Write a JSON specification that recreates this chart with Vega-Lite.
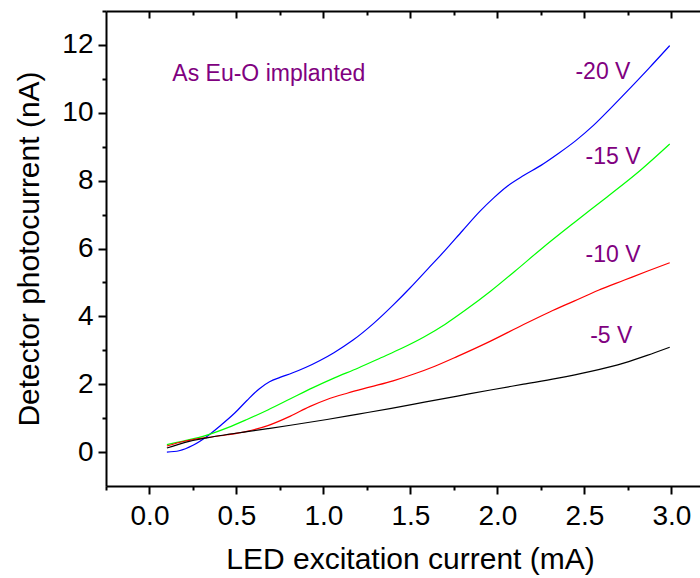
{
  "$schema": "https://vega.github.io/schema/vega-lite/v6.json",
  "width": 594,
  "height": 475,
  "autosize": {"type": "none"},
  "padding": {"left": 106, "top": 11, "right": 0, "bottom": 92},
  "background": "white",
  "config": {
    "view": {"stroke": null},
    "font": "Liberation Sans",
    "axis": {
      "domainColor": "black",
      "domainWidth": 2,
      "tickColor": "black",
      "tickWidth": 2,
      "grid": false,
      "labelFont": "Liberation Sans",
      "titleFont": "Liberation Sans",
      "labelColor": "black",
      "titleColor": "black",
      "titleFontWeight": "normal"
    }
  },
  "datasets": {
    "curves": [
      {"bias": "-20 V", "current": 0.10, "photo": 0.00},
      {"bias": "-20 V", "current": 0.17, "photo": 0.04},
      {"bias": "-20 V", "current": 0.25, "photo": 0.20},
      {"bias": "-20 V", "current": 0.33, "photo": 0.46},
      {"bias": "-20 V", "current": 0.41, "photo": 0.79},
      {"bias": "-20 V", "current": 0.49, "photo": 1.15},
      {"bias": "-20 V", "current": 0.56, "photo": 1.52},
      {"bias": "-20 V", "current": 0.63, "photo": 1.86},
      {"bias": "-20 V", "current": 0.69, "photo": 2.07},
      {"bias": "-20 V", "current": 0.75, "photo": 2.20},
      {"bias": "-20 V", "current": 0.82, "photo": 2.33},
      {"bias": "-20 V", "current": 0.90, "photo": 2.50},
      {"bias": "-20 V", "current": 0.98, "photo": 2.70},
      {"bias": "-20 V", "current": 1.06, "photo": 2.93},
      {"bias": "-20 V", "current": 1.17, "photo": 3.30},
      {"bias": "-20 V", "current": 1.29, "photo": 3.80},
      {"bias": "-20 V", "current": 1.40, "photo": 4.33},
      {"bias": "-20 V", "current": 1.50, "photo": 4.85},
      {"bias": "-20 V", "current": 1.60, "photo": 5.40},
      {"bias": "-20 V", "current": 1.70, "photo": 5.95},
      {"bias": "-20 V", "current": 1.80, "photo": 6.53},
      {"bias": "-20 V", "current": 1.90, "photo": 7.10},
      {"bias": "-20 V", "current": 1.98, "photo": 7.50},
      {"bias": "-20 V", "current": 2.06, "photo": 7.85},
      {"bias": "-20 V", "current": 2.15, "photo": 8.15},
      {"bias": "-20 V", "current": 2.25, "photo": 8.45},
      {"bias": "-20 V", "current": 2.35, "photo": 8.80},
      {"bias": "-20 V", "current": 2.45, "photo": 9.18},
      {"bias": "-20 V", "current": 2.55, "photo": 9.62},
      {"bias": "-20 V", "current": 2.65, "photo": 10.13},
      {"bias": "-20 V", "current": 2.75, "photo": 10.66},
      {"bias": "-20 V", "current": 2.87, "photo": 11.31},
      {"bias": "-20 V", "current": 2.99, "photo": 11.98},
      {"bias": "-15 V", "current": 0.10, "photo": 0.22},
      {"bias": "-15 V", "current": 0.20, "photo": 0.33},
      {"bias": "-15 V", "current": 0.33, "photo": 0.50},
      {"bias": "-15 V", "current": 0.45, "photo": 0.72},
      {"bias": "-15 V", "current": 0.56, "photo": 0.96},
      {"bias": "-15 V", "current": 0.68, "photo": 1.24},
      {"bias": "-15 V", "current": 0.81, "photo": 1.57},
      {"bias": "-15 V", "current": 0.94, "photo": 1.90},
      {"bias": "-15 V", "current": 1.06, "photo": 2.18},
      {"bias": "-15 V", "current": 1.20, "photo": 2.48},
      {"bias": "-15 V", "current": 1.33, "photo": 2.78},
      {"bias": "-15 V", "current": 1.45, "photo": 3.06},
      {"bias": "-15 V", "current": 1.58, "photo": 3.40},
      {"bias": "-15 V", "current": 1.70, "photo": 3.77},
      {"bias": "-15 V", "current": 1.82, "photo": 4.20},
      {"bias": "-15 V", "current": 1.96, "photo": 4.74},
      {"bias": "-15 V", "current": 2.10, "photo": 5.33},
      {"bias": "-15 V", "current": 2.25, "photo": 5.98},
      {"bias": "-15 V", "current": 2.44, "photo": 6.76},
      {"bias": "-15 V", "current": 2.63, "photo": 7.52},
      {"bias": "-15 V", "current": 2.82, "photo": 8.30},
      {"bias": "-15 V", "current": 2.99, "photo": 9.08},
      {"bias": "-10 V", "current": 0.10, "photo": 0.18},
      {"bias": "-10 V", "current": 0.20, "photo": 0.32},
      {"bias": "-10 V", "current": 0.33, "photo": 0.43},
      {"bias": "-10 V", "current": 0.45, "photo": 0.51},
      {"bias": "-10 V", "current": 0.56, "photo": 0.61},
      {"bias": "-10 V", "current": 0.68, "photo": 0.78},
      {"bias": "-10 V", "current": 0.81, "photo": 1.06},
      {"bias": "-10 V", "current": 0.92, "photo": 1.34},
      {"bias": "-10 V", "current": 1.02, "photo": 1.55},
      {"bias": "-10 V", "current": 1.14, "photo": 1.74},
      {"bias": "-10 V", "current": 1.27, "photo": 1.92},
      {"bias": "-10 V", "current": 1.40, "photo": 2.10},
      {"bias": "-10 V", "current": 1.52, "photo": 2.30},
      {"bias": "-10 V", "current": 1.64, "photo": 2.53},
      {"bias": "-10 V", "current": 1.77, "photo": 2.82},
      {"bias": "-10 V", "current": 1.96, "photo": 3.27},
      {"bias": "-10 V", "current": 2.15, "photo": 3.76},
      {"bias": "-10 V", "current": 2.30, "photo": 4.13},
      {"bias": "-10 V", "current": 2.44, "photo": 4.45},
      {"bias": "-10 V", "current": 2.58, "photo": 4.77},
      {"bias": "-10 V", "current": 2.73, "photo": 5.07},
      {"bias": "-10 V", "current": 2.86, "photo": 5.33},
      {"bias": "-10 V", "current": 2.99, "photo": 5.58},
      {"bias": "-5 V", "current": 0.10, "photo": 0.12},
      {"bias": "-5 V", "current": 0.20, "photo": 0.28},
      {"bias": "-5 V", "current": 0.33, "photo": 0.42},
      {"bias": "-5 V", "current": 0.45, "photo": 0.52},
      {"bias": "-5 V", "current": 0.56, "photo": 0.60},
      {"bias": "-5 V", "current": 0.68, "photo": 0.69},
      {"bias": "-5 V", "current": 0.81, "photo": 0.79},
      {"bias": "-5 V", "current": 1.02, "photo": 0.96},
      {"bias": "-5 V", "current": 1.20, "photo": 1.12},
      {"bias": "-5 V", "current": 1.39, "photo": 1.29},
      {"bias": "-5 V", "current": 1.58, "photo": 1.47},
      {"bias": "-5 V", "current": 1.77, "photo": 1.65},
      {"bias": "-5 V", "current": 1.96, "photo": 1.83},
      {"bias": "-5 V", "current": 2.15, "photo": 2.00},
      {"bias": "-5 V", "current": 2.34, "photo": 2.17},
      {"bias": "-5 V", "current": 2.53, "photo": 2.37},
      {"bias": "-5 V", "current": 2.73, "photo": 2.63},
      {"bias": "-5 V", "current": 2.86, "photo": 2.85},
      {"bias": "-5 V", "current": 2.99, "photo": 3.09}
    ],
    "notes": [
      {"label": "As Eu-O implanted", "current": 0.686, "photo": 11.15},
      {"label": "-20 V", "current": 2.606, "photo": 11.19},
      {"label": "-15 V", "current": 2.664, "photo": 8.71},
      {"label": "-10 V", "current": 2.664, "photo": 5.82},
      {"label": "-5 V", "current": 2.654, "photo": 3.41}
    ]
  },
  "layer": [
    {
      "data": {"name": "curves"},
      "mark": {"type": "line", "interpolate": "monotone", "strokeWidth": 1.2, "clip": true},
      "encoding": {
        "x": {
          "field": "current",
          "type": "quantitative",
          "scale": {"domain": [-0.25, 3.164], "nice": false, "zero": false},
          "axis": {
            "orient": "bottom",
            "title": "LED excitation current (mA)",
            "titleFontSize": 30,
            "titleX": 304,
            "titlePadding": 14,
            "values": [-0.25, 0, 0.25, 0.5, 0.75, 1, 1.25, 1.5, 1.75, 2, 2.25, 2.5, 2.75, 3],
            "labelExpr": "abs(datum.value * 2 - round(datum.value * 2)) < 0.01 ? format(datum.value, '.1f') : ''",
            "tickSize": {"condition": {"test": "abs(datum.value * 2 - round(datum.value * 2)) < 0.01", "value": 8}, "value": 4},
            "labelFontSize": 28,
            "labelPadding": 8,
            "labelFlush": false,
            "labelOverlap": false
          }
        },
        "y": {
          "field": "photo",
          "type": "quantitative",
          "scale": {"domain": [-1, 13], "nice": false, "zero": false},
          "axis": {
            "orient": "left",
            "title": "Detector photocurrent (nA)",
            "titleFontSize": 30,
            "titlePadding": 17,
            "values": [0, 1, 2, 3, 4, 5, 6, 7, 8, 9, 10, 11, 12, 13],
            "labelExpr": "datum.value % 2 == 0 ? format(datum.value, 'd') : ''",
            "tickSize": {"condition": {"test": "datum.value % 2 == 0", "value": 8}, "value": 4},
            "labelFontSize": 28,
            "labelPadding": 5,
            "labelFlush": false,
            "labelOverlap": false
          }
        },
        "color": {
          "field": "bias",
          "type": "nominal",
          "scale": {
            "domain": ["-20 V", "-15 V", "-10 V", "-5 V"],
            "range": ["#0000ff", "#00ff00", "#ff0000", "#000000"]
          },
          "legend": null
        }
      }
    },
    {
      "data": {"name": "notes"},
      "mark": {"type": "text", "fontSize": 23, "color": "#800080", "baseline": "middle", "align": "center"},
      "encoding": {
        "x": {
          "field": "current",
          "type": "quantitative",
          "axis": {
            "orient": "top",
            "title": null,
            "labels": false,
            "values": [0, 0.25, 0.5, 0.75, 1, 1.25, 1.5, 1.75, 2, 2.25, 2.5, 2.75, 3],
            "tickSize": {"condition": {"test": "abs(datum.value * 2 - round(datum.value * 2)) < 0.01", "value": -7}, "value": -4}
          }
        },
        "y": {"field": "photo", "type": "quantitative", "axis": null},
        "text": {"field": "label"}
      }
    }
  ],
  "resolve": {"axis": {"x": "independent", "y": "independent"}}
}
